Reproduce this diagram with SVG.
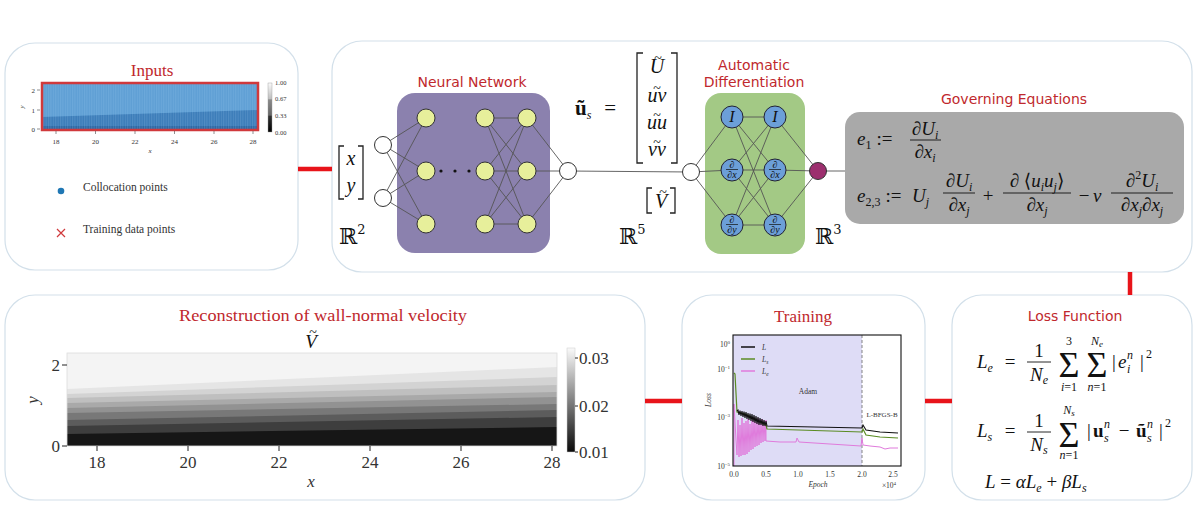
<svg xmlns="http://www.w3.org/2000/svg" width="1200" height="505" viewBox="0 0 1200 505">
<style>
.panel{fill:#fff;stroke:#d3e0ea;stroke-width:1.2}
.ttl{fill:#c0282d;font-family:"DejaVu Sans",sans-serif;font-size:14px;text-anchor:middle}
.sttl{fill:#c0282d;font-family:"Liberation Serif","DejaVu Serif",serif;text-anchor:middle}
.m{font-family:"Liberation Serif","DejaVu Serif",serif;font-size:19px;fill:#111}
.i{font-style:italic}
.c{text-anchor:middle}
.e{text-anchor:end}
.link{stroke:#e8141a;stroke-width:4.5}
.w{stroke:#555;stroke-width:0.9;fill:none}
.yn{fill:#e7ef9b;stroke:#333;stroke-width:1}
.wn{fill:#fff;stroke:#333;stroke-width:1}
.bn{fill:#6c9fd8;stroke:#223;stroke-width:1}
.bb{font-family:"DejaVu Serif","DejaVu Sans",serif;fill:#111}
.tk{font-family:"Liberation Serif","DejaVu Serif",serif;fill:#333}
.br{fill:none;stroke:#222;stroke-width:1.3}
.sub{font-size:12px}
.s12{font-size:12px}
.til{font-size:14px;font-style:normal}
.sig{font-size:36px}
</style>
<defs>
<linearGradient id="cb1" x1="0" y1="0" x2="0" y2="1">
<stop offset="0" stop-color="#fafafa"/><stop offset="0.33" stop-color="#bdbdbd"/><stop offset="0.34" stop-color="#8a8a8a"/><stop offset="0.66" stop-color="#666"/><stop offset="0.67" stop-color="#333"/><stop offset="1" stop-color="#000"/>
</linearGradient>
<linearGradient id="cb2" x1="0" y1="0" x2="0" y2="1">
<stop offset="0" stop-color="#fafafa"/><stop offset="1" stop-color="#0a0a0a"/>
</linearGradient>
<pattern id="grid" width="2.4" height="10" patternUnits="userSpaceOnUse"><line x1="0.6" y1="0" x2="0.6" y2="10" stroke="#9cc8ec" stroke-width="0.5" opacity="0.55"/></pattern>
</defs>

<!-- Inputs -->
<g id="inputs">
<rect class="panel" x="5" y="43" width="293" height="227" rx="30"/>
<text class="sttl" x="152" y="76" font-size="17">Inputs</text>
<rect x="42" y="83" width="216" height="47" fill="#5e9fd4"/>
<polygon points="42,117 258,110 258,130 42,130" fill="#3b7cb8"/>
<rect x="42" y="126" width="216" height="4" fill="#2d67a3"/>
<rect x="42" y="83" width="216" height="47" fill="url(#grid)"/>
<rect x="42" y="83" width="216" height="47" fill="none" stroke="#d0393c" stroke-width="2.5"/>
<g stroke="#444" stroke-width="0.6">
<line x1="37" y1="90" x2="40" y2="90"/><line x1="37" y1="110" x2="40" y2="110"/><line x1="37" y1="129" x2="40" y2="129"/>
<line x1="56" y1="131" x2="56" y2="134"/><line x1="95.5" y1="131" x2="95.5" y2="134"/><line x1="135" y1="131" x2="135" y2="134"/><line x1="174.5" y1="131" x2="174.5" y2="134"/><line x1="214" y1="131" x2="214" y2="134"/><line x1="253" y1="131" x2="253" y2="134"/>
</g>
<g class="tk" font-size="7">
<text class="e" x="35" y="92.5">2</text><text class="e" x="35" y="112.5">1</text><text class="e" x="35" y="131.5">0</text>
<text class="c" x="56" y="144">18</text><text class="c" x="95.5" y="144">20</text><text class="c" x="135" y="144">22</text><text class="c" x="174.5" y="144">24</text><text class="c" x="214" y="144">26</text><text class="c" x="253" y="144">28</text>
<text class="c i" x="150" y="153">x</text>
<text class="c i" transform="translate(24 107) rotate(-90)">y</text>
</g>
<rect x="268" y="83" width="4" height="49" fill="url(#cb1)" stroke="#999" stroke-width="0.4"/>
<g class="tk" font-size="6.5">
<text x="275" y="85">1.00</text><text x="275" y="101">0.67</text><text x="275" y="118">0.33</text><text x="275" y="135">0.00</text>
</g>
<circle cx="61" cy="191" r="3.3" fill="#1f77b4"/>
<text class="tk" x="83" y="191" font-size="11.5" fill="#444">Collocation points</text>
<path d="M57,229 L65,237 M57,237 L65,229" stroke="#d0393c" stroke-width="1.2"/>
<text class="tk" x="83" y="233" font-size="11.5" fill="#444">Training data points</text>
</g>

<!-- Model panel -->
<g id="model-panel">
<rect class="panel" x="332" y="41" width="860" height="231" rx="30"/>
</g>

<!-- Neural network -->
<g id="neural-network">
<text class="ttl" x="472" y="87">Neural Network</text>
<rect x="397" y="93" width="153" height="160" rx="18" fill="#8b81ae"/>
<g class="w">
<line x1="383" y1="145" x2="426" y2="118"/><line x1="383" y1="145" x2="426" y2="171"/><line x1="383" y1="145" x2="426" y2="224"/>
<line x1="383" y1="198" x2="426" y2="118"/><line x1="383" y1="198" x2="426" y2="171"/><line x1="383" y1="198" x2="426" y2="224"/>
<line x1="485" y1="118" x2="527" y2="118"/><line x1="485" y1="118" x2="527" y2="171"/><line x1="485" y1="118" x2="527" y2="224"/>
<line x1="485" y1="171" x2="527" y2="118"/><line x1="485" y1="171" x2="527" y2="171"/><line x1="485" y1="171" x2="527" y2="224"/>
<line x1="485" y1="224" x2="527" y2="118"/><line x1="485" y1="224" x2="527" y2="171"/><line x1="485" y1="224" x2="527" y2="224"/>
<line x1="527" y1="118" x2="568" y2="171"/><line x1="527" y1="171" x2="568" y2="171"/><line x1="527" y1="224" x2="568" y2="171"/>
<line x1="568" y1="171" x2="691" y2="172"/>
</g>
<circle class="wn" cx="383" cy="145" r="8.5"/><circle class="wn" cx="383" cy="198" r="8.5"/>
<circle class="yn" cx="426" cy="118" r="9"/><circle class="yn" cx="426" cy="171" r="9"/><circle class="yn" cx="426" cy="224" r="9"/>
<circle class="yn" cx="485" cy="118" r="9"/><circle class="yn" cx="485" cy="171" r="9"/><circle class="yn" cx="485" cy="224" r="9"/>
<circle class="yn" cx="527" cy="118" r="9"/><circle class="yn" cx="527" cy="171" r="9"/><circle class="yn" cx="527" cy="224" r="9"/>
<circle class="wn" cx="568" cy="171" r="8.5"/>
<circle cx="441" cy="171" r="1.6" fill="#111"/><circle cx="455" cy="171" r="1.6" fill="#111"/><circle cx="469" cy="171" r="1.6" fill="#111"/>
<path class="br" d="M344,146 H339 V199 H344 M358,146 H363 V199 H358"/>
<text class="m i c" x="351" y="165" style="font-size:20px">x</text>
<text class="m i c" x="351" y="192" style="font-size:20px">y</text>
<text class="bb" x="339" y="244" font-size="22">ℝ<tspan font-size="13" dy="-10">2</tspan></text>
<text class="m" x="575" y="115" style="font-size:21px;font-weight:bold">ũ<tspan class="i sub" font-weight="normal" dy="4">s</tspan><tspan font-weight="normal" dx="13" dy="-4">=</tspan></text>
<path class="br" d="M643,53 H637 V163 H643 M671,53 H677 V163 H671"/>
<g class="m i c" style="font-size:20px">
<text x="657" y="73">U<tspan class="til" x="658" y="63">~</tspan></text>
<text x="657" y="102">uv<tspan class="til" x="657" y="93">~</tspan></text>
<text x="657" y="129">uu<tspan class="til" x="657" y="120">~</tspan></text>
<text x="657" y="156">vv<tspan class="til" x="657" y="147">~</tspan></text>
</g>
<path class="br" d="M652,188 H647 V213 H652 M670,188 H675 V213 H670"/>
<text class="m i c" x="661" y="208" style="font-size:20px">V<tspan class="til" x="663" y="197">~</tspan></text>
<text class="bb" x="619" y="244" font-size="22">ℝ<tspan font-size="13" dy="-10">5</tspan></text>
</g>

<!-- Automatic differentiation -->
<g id="automatic-differentiation">
<text class="ttl" x="754" y="70">Automatic</text>
<text class="ttl" x="754" y="87">Differentiation</text>
<rect x="705" y="93" width="100" height="161" rx="16" fill="#a3c985"/>
<g class="w">
<line x1="691" y1="172" x2="732" y2="117"/><line x1="691" y1="172" x2="732" y2="170"/><line x1="691" y1="172" x2="732" y2="225"/>
<line x1="732" y1="117" x2="775" y2="117"/><line x1="732" y1="117" x2="775" y2="170"/><line x1="732" y1="117" x2="775" y2="225"/>
<line x1="732" y1="170" x2="775" y2="117"/><line x1="732" y1="170" x2="775" y2="170"/><line x1="732" y1="170" x2="775" y2="225"/>
<line x1="732" y1="225" x2="775" y2="117"/><line x1="732" y1="225" x2="775" y2="170"/><line x1="732" y1="225" x2="775" y2="225"/>
<line x1="775" y1="117" x2="818" y2="171"/><line x1="775" y1="170" x2="818" y2="171"/><line x1="775" y1="225" x2="818" y2="171"/>
<line x1="818" y1="171" x2="845" y2="171"/>
</g>
<circle class="wn" cx="691" cy="172" r="8.5"/>
<circle class="bn" cx="732" cy="117" r="11"/><circle class="bn" cx="732" cy="170" r="11"/><circle class="bn" cx="732" cy="225" r="11"/>
<circle class="bn" cx="775" cy="117" r="11"/><circle class="bn" cx="775" cy="170" r="11"/><circle class="bn" cx="775" cy="225" r="11"/>
<circle cx="818" cy="171" r="8.5" fill="#9c2f6e" stroke="#333" stroke-width="1"/>
<g class="m i c" style="font-size:16px">
<text x="732" y="122">I</text><text x="775" y="122">I</text>
</g>
<g class="m c" style="font-size:10px">
<text x="732" y="167.5">∂</text><text x="732" y="178">∂<tspan class="i">x</tspan></text>
<text x="775" y="167.5">∂</text><text x="775" y="178">∂<tspan class="i">x</tspan></text>
<text x="732" y="222.5">∂</text><text x="732" y="233">∂<tspan class="i">y</tspan></text>
<text x="775" y="222.5">∂</text><text x="775" y="233">∂<tspan class="i">y</tspan></text>
</g>
<g stroke="#111" stroke-width="0.7">
<line x1="726" y1="169.5" x2="738" y2="169.5"/><line x1="769" y1="169.5" x2="781" y2="169.5"/>
<line x1="726" y1="224.5" x2="738" y2="224.5"/><line x1="769" y1="224.5" x2="781" y2="224.5"/>
</g>
<text class="bb" x="815" y="244" font-size="22">ℝ<tspan font-size="13" dy="-10">3</tspan></text>
</g>

<!-- Governing equations -->
<g id="governing-equations">
<text class="ttl" x="1014" y="104">Governing Equations</text>
<rect x="845" y="112" width="339" height="112" rx="15" fill="#a9a9a9"/>
<text class="m i" x="857" y="145">e<tspan class="sub" font-style="normal" dy="4">1</tspan><tspan font-style="normal" dx="5" dy="-4">:=</tspan></text>
<text class="m c" x="925" y="135">∂<tspan class="i">U</tspan><tspan class="i sub" dy="4">i</tspan></text>
<line x1="910" y1="140" x2="941" y2="140" stroke="#111" stroke-width="0.9"/>
<text class="m c" x="925" y="158">∂<tspan class="i">x</tspan><tspan class="i sub" dy="4">i</tspan></text>
<text class="m i" x="857" y="202">e<tspan class="sub" font-style="normal" dy="4">2,3</tspan><tspan font-style="normal" dx="5" dy="-4">:=</tspan></text>
<text class="m i" x="912" y="202">U<tspan class="sub" dy="4">j</tspan></text>
<text class="m c" x="959" y="187">∂<tspan class="i">U</tspan><tspan class="i sub" dy="4">i</tspan></text>
<line x1="943" y1="193" x2="975" y2="193" stroke="#111" stroke-width="0.9"/>
<text class="m c" x="959" y="211">∂<tspan class="i">x</tspan><tspan class="i sub" dy="4">j</tspan></text>
<text class="m c" x="988" y="202">+</text>
<text class="m c" x="1037" y="187">∂ ⟨<tspan class="i">u</tspan><tspan class="i sub" dy="4">i</tspan><tspan class="i" dy="-4">u</tspan><tspan class="i sub" dy="4">j</tspan><tspan dy="-4">⟩</tspan></text>
<line x1="1003" y1="193" x2="1071" y2="193" stroke="#111" stroke-width="0.9"/>
<text class="m c" x="1037" y="211">∂<tspan class="i">x</tspan><tspan class="i sub" dy="4">j</tspan></text>
<text class="m c" x="1084" y="202">−</text>
<text class="m i" x="1093" y="202">ν</text>
<text class="m c" x="1142" y="187">∂<tspan class="sub" dy="-8">2</tspan><tspan class="i" dy="8">U</tspan><tspan class="i sub" dy="4">i</tspan></text>
<line x1="1111" y1="193" x2="1173" y2="193" stroke="#111" stroke-width="0.9"/>
<text class="m c" x="1142" y="211">∂<tspan class="i">x</tspan><tspan class="i sub" dy="4">j</tspan><tspan dy="-4">∂</tspan><tspan class="i">x</tspan><tspan class="i sub" dy="4">j</tspan></text>
</g>

<!-- Reconstruction -->
<g id="reconstruction">
<rect class="panel" x="5" y="295" width="640" height="205" rx="30"/>
<text class="sttl" x="323" y="321" font-size="16" textLength="288" lengthAdjust="spacingAndGlyphs">Reconstruction of wall-normal velocity</text>
<text class="m i c" x="311" y="348">V<tspan class="til" x="313" y="337">~</tspan></text>
<rect x="67" y="353" width="490" height="93" fill="#f4f4f4"/>
<polygon points="67,389 557,367 557,446 67,446" fill="#e5e5e5"/>
<polygon points="67,394 557,377 557,446 67,446" fill="#d3d3d3"/>
<polygon points="67,398 557,385 557,446 67,446" fill="#bfbfbf"/>
<polygon points="67,403 557,392 557,446 67,446" fill="#a9a9a9"/>
<polygon points="67,408 557,397 557,446 67,446" fill="#929292"/>
<polygon points="67,413 557,404 557,446 67,446" fill="#787878"/>
<polygon points="67,420 557,410 557,446 67,446" fill="#5c5c5c"/>
<polygon points="67,426 557,417 557,446 67,446" fill="#3e3e3e"/>
<polygon points="67,434 557,427 557,446 67,446" fill="#161616"/>
<rect x="67" y="353" width="490" height="93" fill="none" stroke="#ddd" stroke-width="0.8"/>
<g stroke="#222" stroke-width="1">
<line x1="62" y1="365" x2="67" y2="365"/><line x1="62" y1="446" x2="67" y2="446"/>
<line x1="97" y1="446" x2="97" y2="451"/><line x1="188" y1="446" x2="188" y2="451"/><line x1="279" y1="446" x2="279" y2="451"/><line x1="370" y1="446" x2="370" y2="451"/><line x1="461" y1="446" x2="461" y2="451"/><line x1="552" y1="446" x2="552" y2="451"/>
</g>
<g class="tk" font-size="17" fill="#111">
<text class="e" x="60" y="371">2</text><text class="e" x="60" y="452">0</text>
<text class="c" x="97" y="468">18</text><text class="c" x="188" y="468">20</text><text class="c" x="279" y="468">22</text><text class="c" x="370" y="468">24</text><text class="c" x="461" y="468">26</text><text class="c" x="552" y="468">28</text>
<text class="c i" x="311" y="487">x</text>
<text class="c i" transform="translate(38 400) rotate(-90)">y</text>
</g>
<rect x="567" y="348" width="8" height="104" fill="url(#cb2)" stroke="#ccc" stroke-width="0.5"/>
<g stroke="#222" stroke-width="1"><line x1="575" y1="358" x2="578" y2="358"/><line x1="575" y1="406" x2="578" y2="406"/><line x1="575" y1="452" x2="578" y2="452"/></g>
<g class="tk" font-size="17" fill="#111">
<text x="579" y="364">0.03</text><text x="579" y="412">0.02</text><text x="579" y="458">0.01</text>
</g>
</g>

<!-- Training -->
<g id="training">
<rect class="panel" x="682" y="295" width="243" height="205" rx="30"/>
<text class="sttl" x="803" y="322" font-size="17">Training</text>
<rect x="733" y="335" width="129" height="131" fill="#dedcf6"/>
<line x1="862" y1="335" x2="862" y2="466" stroke="#777" stroke-width="0.9" stroke-dasharray="3,2"/>
<polyline fill="none" stroke="#e07bdc" stroke-width="1" points="734,466 734,404 736,440 737,455 738,420 739,457 740,425 741,456 742,418 743,455 744,423 745,455 746,421 747,454 748,419 749,452 750,424 751,450 752,420 753,449 754,417 755,447 756,422 757,446 758,418 759,445 760,421 761,443 762,419 763,442 764,421 765,441 766,420 766,441 780,442 796,442 797,438 799,442 830,444 861,446 862,438 863,445 870,446 880,447 885,449 890,448 898,448"/>
<polyline fill="none" stroke="#5b8c23" stroke-width="1.2" points="734,373 735,374 737,412 745,414 766,425 767,429 862,432 863,429 866,435 880,437 898,438"/>
<polyline fill="none" stroke="#111" stroke-width="1.1" points="737,411 738,410 739,414.9 740,410.5 741,416 742,411 743,417 744,411.5 745,418 746,412 747,419 748,413 749,420 750,413.5 751,421 752,414 753,422 754,415 755,423 756,416 757,424 758,417 759,425 760,418 761,425 762,419 763,426 764,420 765,426 766,421 767,426 862,428 863,425 866,430 880,432 898,433"/>
<rect x="733" y="335" width="168" height="131" fill="none" stroke="#111" stroke-width="1.1"/>
<line x1="741" y1="347" x2="755" y2="347" stroke="#111" stroke-width="1.5"/>
<line x1="741" y1="359" x2="755" y2="359" stroke="#5b8c23" stroke-width="1.5"/>
<line x1="741" y1="371" x2="755" y2="371" stroke="#e07bdc" stroke-width="1.5"/>
<g class="tk" font-size="7.5">
<text class="i" x="762" y="350">L</text>
<text class="i" x="762" y="362">L<tspan font-size="5.5" dy="1.5">s</tspan></text>
<text class="i" x="762" y="374">L<tspan font-size="5.5" dy="1.5">e</tspan></text>
<text class="c" x="808" y="394">Adam</text>
<text class="c" x="882" y="417" font-size="7">L-BFGS-B</text>
<text class="e" x="730" y="347">10<tspan font-size="5" dy="-3">0</tspan></text>
<text class="e" x="730" y="372">10<tspan font-size="5" dy="-3">−1</tspan></text>
<text class="e" x="730" y="420">10<tspan font-size="5" dy="-3">−3</tspan></text>
<text class="e" x="730" y="469">10<tspan font-size="5" dy="-3">−5</tspan></text>
<text class="c" x="734" y="477">0.0</text><text class="c" x="766" y="477">0.5</text><text class="c" x="798" y="477">1.0</text><text class="c" x="830" y="477">1.5</text><text class="c" x="862" y="477">2.0</text><text class="c" x="893" y="477">2.5</text>
<text class="c i" x="818" y="487">Epoch</text>
<text class="c" x="889" y="488">×10<tspan font-size="5" dy="-3">4</tspan></text>
<text class="c i" transform="translate(711 400) rotate(-90)">Loss</text>
</g>
</g>

<!-- Loss function -->
<g id="loss-function">
<rect class="panel" x="952" y="295" width="240" height="205" rx="30"/>
<text class="ttl" x="1075" y="321">Loss Function</text>
<text class="m i" x="977" y="368">L<tspan class="sub" dy="4">e</tspan></text>
<text class="m c" x="1010" y="368">=</text>
<text class="m c" x="1039" y="357">1</text>
<line x1="1027" y1="362" x2="1051" y2="362" stroke="#111" stroke-width="0.9"/>
<text class="m i c" x="1039" y="381">N<tspan class="sub" dy="3">e</tspan></text>
<text class="m c sig" x="1069" y="377">Σ</text>
<text class="m c s12" x="1069" y="345">3</text>
<text class="m c s12" x="1069" y="391"><tspan class="i">i</tspan>=1</text>
<text class="m c sig" x="1097" y="377">Σ</text>
<text class="m i c s12" x="1097" y="345">N<tspan font-size="9" dy="2">e</tspan></text>
<text class="m c s12" x="1097" y="391"><tspan class="i">n</tspan>=1</text>
<text class="m" x="1112" y="368">|</text>
<text class="m i" x="1118" y="368">e</text>
<text class="m i s12" x="1127" y="359">n</text>
<text class="m i s12" x="1127" y="373">i</text>
<text class="m" x="1140" y="368">|</text>
<text class="m s12" x="1146" y="358">2</text>

<text class="m i" x="977" y="437">L<tspan class="sub" dy="4">s</tspan></text>
<text class="m c" x="1010" y="437">=</text>
<text class="m c" x="1039" y="427">1</text>
<line x1="1027" y1="432" x2="1051" y2="432" stroke="#111" stroke-width="0.9"/>
<text class="m i c" x="1039" y="451">N<tspan class="sub" dy="3">s</tspan></text>
<text class="m c sig" x="1069" y="447">Σ</text>
<text class="m i c s12" x="1069" y="414">N<tspan font-size="9" dy="2">s</tspan></text>
<text class="m c s12" x="1069" y="459"><tspan class="i">n</tspan>=1</text>
<text class="m" x="1087" y="437">|</text>
<text class="m" x="1093" y="437" font-weight="bold">u</text>
<text class="m i s12" x="1104" y="428">n</text>
<text class="m i s12" x="1104" y="442">s</text>
<text class="m c" x="1124" y="437">−</text>
<text class="m" x="1136" y="437" font-weight="bold">ũ</text>
<text class="m i s12" x="1147" y="428">n</text>
<text class="m i s12" x="1147" y="442">s</text>
<text class="m" x="1159" y="437">|</text>
<text class="m s12" x="1165" y="427">2</text>

<text class="m" x="985" y="488"><tspan class="i">L</tspan> = <tspan class="i">αL</tspan><tspan class="i sub" dy="4">e</tspan><tspan dy="-4"> + </tspan><tspan class="i">βL</tspan><tspan class="i sub" dy="4">s</tspan></text>
</g>

<!-- Connectors -->
<g id="connectors" class="link">
<line x1="298" y1="169" x2="332" y2="169"/>
<line x1="1130" y1="272" x2="1130" y2="295"/>
<line x1="925" y1="401" x2="952" y2="401"/>
<line x1="645" y1="401" x2="682" y2="401"/>
</g>
</svg>
